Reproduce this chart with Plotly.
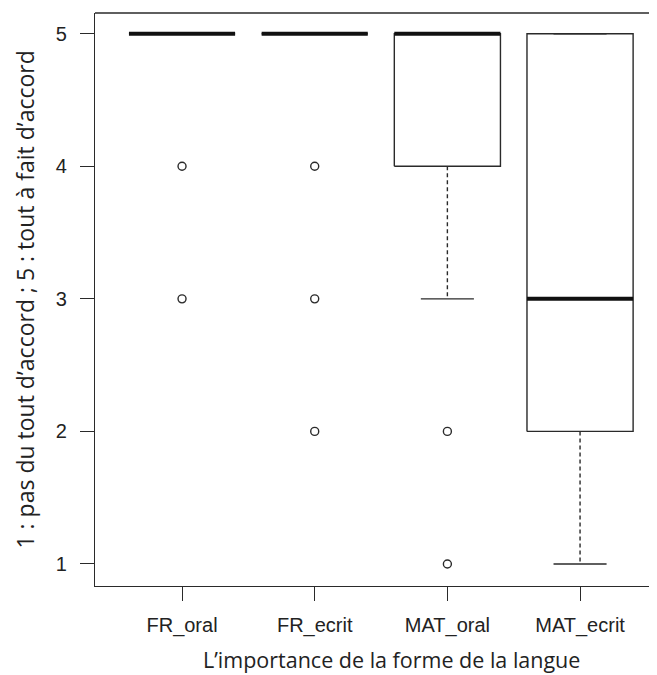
import plotly.graph_objects as go

categories = ["FR_oral", "FR_ecrit", "MAT_oral", "MAT_ecrit"]
q1 = [5, 5, 4, 2]
median = [5, 5, 5, 3]
q3 = [5, 5, 5, 5]
whisker_low = [5, 5, 3, 1]
whisker_high = [5, 5, 5, 5]
outliers = [[4, 3], [4, 3, 2], [2, 1], []]

x_title = "L’importance de la forme de la langue"
y_title = "1 : pas du tout d’accord ; 5 : tout à fait d’accord"
y_ticks = [1, 2, 3, 4, 5]

BOX_HALF = 0.4
CAP_HALF = 0.2
LINE = "#2a2a2a"

bx, by, wx, wy, cx, cy, mx, my, ox, oy = [], [], [], [], [], [], [], [], [], []
for i, cat in enumerate(categories):
    p = i + 1
    bx += [p - BOX_HALF, p + BOX_HALF, p + BOX_HALF, p - BOX_HALF, p - BOX_HALF, None]
    by += [q1[i], q1[i], q3[i], q3[i], q1[i], None]
    if whisker_high[i] > q3[i]:
        wx += [p, p, None]
        wy += [q3[i], whisker_high[i], None]
    if whisker_low[i] < q1[i]:
        wx += [p, p, None]
        wy += [q1[i], whisker_low[i], None]
    cx += [p - CAP_HALF, p + CAP_HALF, None, p - CAP_HALF, p + CAP_HALF, None]
    cy += [whisker_low[i], whisker_low[i], None, whisker_high[i], whisker_high[i], None]
    mx += [p - BOX_HALF, p + BOX_HALF, None]
    my += [median[i], median[i], None]
    for v in outliers[i]:
        ox.append(p)
        oy.append(v)

fig = go.Figure()
fig.add_trace(go.Scatter(x=wx, y=wy, mode="lines", line=dict(color=LINE, width=1.4, dash="4px,3px"),
                         hoverinfo="skip", showlegend=False))
fig.add_trace(go.Scatter(x=cx, y=cy, mode="lines", line=dict(color=LINE, width=1.4),
                         hoverinfo="skip", showlegend=False))
fig.add_trace(go.Scatter(x=bx, y=by, mode="lines", line=dict(color=LINE, width=1.4),
                         hoverinfo="skip", showlegend=False))
fig.add_trace(go.Scatter(x=mx, y=my, mode="lines", line=dict(color="#111111", width=4),
                         hoverinfo="skip", showlegend=False))
fig.add_trace(go.Scatter(x=ox, y=oy, mode="markers",
                         marker=dict(symbol="circle-open", size=8, color=LINE, line=dict(width=1.4)),
                         showlegend=False))

fig.add_shape(type="line", xref="paper", yref="paper", x0=0, x1=1.05, y0=1, y1=1,
              line=dict(color=LINE, width=1.4))

# axis titles as annotations (positioned like the R device layout)
fig.add_annotation(text=x_title, xref="paper", yref="paper", x=0.527, y=-0.128,
                   xanchor="center", yanchor="middle", showarrow=False,
                   font=dict(family="Open Sans, Lato", size=21.5, color="#222222"))
fig.add_annotation(text=y_title, xref="paper", yref="paper", x=-0.1263, y=0.5,
                   xanchor="center", yanchor="middle", showarrow=False, textangle=-90,
                   font=dict(family="Open Sans, Lato", size=23, color="#222222"))

fig.update_layout(
    width=649, height=667,
    margin=dict(l=87, r=0, t=5, b=89),
    paper_bgcolor="white", plot_bgcolor="white",
    showlegend=False,
)
fig.update_xaxes(
    range=[0.344, 4.58], tickvals=[1, 2, 3, 4], ticktext=categories,
    showgrid=False, zeroline=False, showline=True, linecolor=LINE, linewidth=1.4,
    ticks="outside", ticklen=14, tickwidth=1.4, tickcolor=LINE, ticklabelstandoff=7,
    tickfont=dict(family="Liberation Sans, Arial", size=20, color="#222222"),
)
fig.update_yaxes(
    range=[0.834, 5.156], tickvals=y_ticks,
    showgrid=False, zeroline=False, showline=True, linecolor=LINE, linewidth=1.4,
    ticks="outside", ticklen=14, tickwidth=1.4, tickcolor=LINE, ticklabelstandoff=9,
    tickfont=dict(family="Liberation Sans, Arial", size=20, color="#222222"),
)

fig.write_html("out.html")
